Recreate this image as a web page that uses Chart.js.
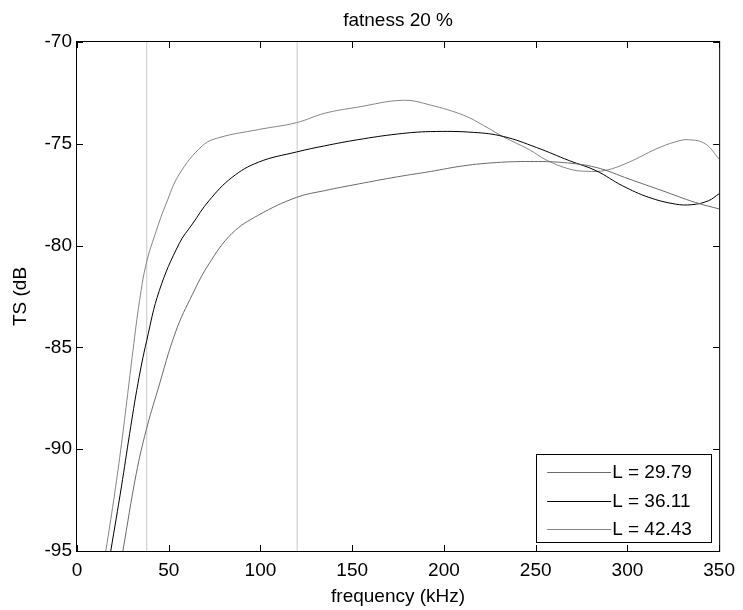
<!DOCTYPE html>
<html>
<head>
<meta charset="utf-8">
<title>fatness 20 %</title>
<script src="https://cdn.jsdelivr.net/npm/chart.js@4/dist/chart.umd.min.js"></script>
<style>
  html, body { margin: 0; padding: 0; background: #fff; }
  #wrap { width: 743px; height: 610px; }
</style>
</head>
<body>
<div id="wrap"><canvas id="chartTS" width="743" height="610"></canvas></div>
<script>
// TS vs frequency for three fish lengths
const freqL30 = [25, 32.3, 37.7, 44, 53.9, 62.9, 71.9, 84.5, 99, 119.7, 135, 153, 174.7, 192.7, 210.8, 228.8, 246.8, 264.8, 282.9, 300.9, 318.9, 337, 350];
const tsL30   = [-95, -91.2, -89.07, -87.1, -84.2, -82.4, -80.9, -79.4, -78.5, -77.63, -77.3, -76.98, -76.62, -76.36, -76.08, -75.92, -75.87, -75.92, -76.16, -76.73, -77.3, -77.88, -78.2];

const freqL36 = [18.4, 24.2, 28.7, 33.2, 38, 44.9, 55.7, 62.9, 71.9, 84.5, 99, 119.7, 135, 153, 174.7, 192.7, 216.2, 232.4, 250.4, 268.4, 282.9, 297.3, 311.7, 326.1, 335.1, 344.1, 350];
const tsL36   = [-95, -91.85, -89.23, -86.78, -84.66, -82.2, -79.9, -78.94, -77.8, -76.65, -75.9, -75.4, -75.1, -74.8, -74.52, -74.4, -74.44, -74.64, -75.18, -75.83, -76.32, -77.06, -77.63, -77.96, -77.99, -77.8, -77.45];

const freqL42 = [15.7, 20, 23.8, 27.2, 30.5, 34.1, 37.7, 43.1, 48.5, 55.7, 68.3, 77.3, 99, 119.7, 135, 153, 178, 192.7, 210.8, 221.6, 232.4, 246.8, 255.8, 268.4, 277.4, 288.3, 300.9, 315.5, 326.3, 333.3, 342.4, 350];
const tsL42   = [-95, -92.5, -90.05, -87.6, -85.15, -82.7, -80.9, -79.3, -77.96, -76.5, -75.1, -74.7, -74.3, -73.96, -73.5, -73.2, -72.86, -73.1, -73.6, -74.1, -74.66, -75.3, -75.8, -76.24, -76.35, -76.3, -75.9, -75.26, -74.9, -74.8, -75.0, -75.75];

const seriesLabels = ['L = 29.79', 'L = 36.11', 'L = 42.43'];
const markerFreqs = [38, 120];

const xTickValues = [0, 50, 100, 150, 200, 250, 300, 350];
const yTickValues = [-95, -90, -85, -80, -75, -70];

const FONT = { family: '"Liberation Sans", Arial, sans-serif', size: 19 };

const curve = (fs, ts) => fs.map((f, i) => ({ x: f, y: ts[i] }));

// box round the axes with inward ticks on all four sides
const frameTicks = {
  id: 'frameTicks',
  afterDatasetsDraw(chart) {
    const { ctx, chartArea: a, scales: { x, y } } = chart;
    const len = 6;
    ctx.save();
    ctx.strokeStyle = '#000';
    ctx.lineWidth = 1;
    ctx.beginPath();
    x.ticks.forEach(t => {
      const px = Math.round(x.getPixelForValue(t.value)) + 0.5;
      ctx.moveTo(px, a.bottom); ctx.lineTo(px, a.bottom - len);
      ctx.moveTo(px, a.top);    ctx.lineTo(px, a.top + len);
    });
    y.ticks.forEach(t => {
      const py = Math.round(y.getPixelForValue(t.value)) + 0.5;
      ctx.moveTo(a.left, py);  ctx.lineTo(a.left + len, py);
      ctx.moveTo(a.right, py); ctx.lineTo(a.right - len, py);
    });
    ctx.stroke();
    ctx.strokeRect(a.left - 0.5, a.top - 0.5, a.right - a.left + 1, a.bottom - a.top + 1);
    ctx.restore();
  }
};

// legend box in the lower right corner of the axes
const boxLegend = {
  id: 'boxLegend',
  afterDraw(chart) {
    const { ctx, chartArea: a } = chart;
    const w = 175, h = 88;
    const left = a.right - 8 - w, top = a.bottom - 9 - h;
    ctx.save();
    ctx.fillStyle = '#fff';
    ctx.fillRect(left, top, w, h);
    ctx.strokeStyle = '#000';
    ctx.lineWidth = 1;
    ctx.strokeRect(Math.round(left) + 0.5, Math.round(top) + 0.5, w, h);
    ctx.font = `${FONT.size}px ${FONT.family}`;
    ctx.textBaseline = 'middle';
    ctx.fillStyle = '#000';
    chart.data.datasets.filter(ds => !ds.marker).forEach((ds, i) => {
      const cy = Math.round(top + 18 + i * 28.5) + 0.5;
      ctx.strokeStyle = ds.borderColor;
      ctx.beginPath();
      ctx.moveTo(left + 11, cy);
      ctx.lineTo(left + 75, cy);
      ctx.stroke();
      ctx.fillText(ds.label, left + 76, cy);
    });
    ctx.restore();
  }
};

const lineStyle = { borderWidth: 1, pointRadius: 0, tension: 0.4, fill: false };

new Chart(document.getElementById('chartTS'), {
  type: 'line',
  data: {
    datasets: [
      { label: seriesLabels[0], data: curve(freqL30, tsL30), borderColor: '#6a6a6a', ...lineStyle },
      { label: seriesLabels[1], data: curve(freqL36, tsL36), borderColor: '#000000', ...lineStyle },
      { label: seriesLabels[2], data: curve(freqL42, tsL42), borderColor: '#858585', ...lineStyle },
      // operating frequencies
      ...markerFreqs.map(f => ({
        label: f + ' kHz', marker: true,
        data: [{ x: f, y: yTickValues[0] }, { x: f, y: yTickValues[yTickValues.length - 1] }],
        borderColor: '#c8c8c8', borderWidth: 1, pointRadius: 0
      }))
    ]
  },
  options: {
    responsive: false,
    animation: false,
    events: [],
    layout: { padding: { top: 0, right: 19, bottom: 0, left: 0 } },
    plugins: {
      legend: { display: false },
      tooltip: { enabled: false },
      title: {
        display: true,
        text: 'fatness 20 %',
        fullSize: false,
        color: '#000',
        font: { ...FONT, weight: 'normal' },
        padding: { top: 9, bottom: 10.2 }
      }
    },
    scales: {
      x: {
        type: 'linear',
        min: 0, max: 350,
        afterBuildTicks: s => { s.ticks = xTickValues.map(v => ({ value: v })); },
        afterFit: s => { s.height = 59; },
        grid: { display: false, drawTicks: false },
        border: { display: false },
        ticks: { color: '#000', font: FONT, padding: 8, maxRotation: 0, autoSkip: false },
        title: { display: true, text: 'frequency (kHz)', color: '#000', font: FONT, padding: { top: 0, bottom: 2 } }
      },
      y: {
        type: 'linear',
        min: -95, max: -70,
        afterBuildTicks: s => { s.ticks = yTickValues.map(v => ({ value: v })); },
        afterFit: s => { s.width = 77; },
        grid: { display: false, drawTicks: false },
        border: { display: false },
        ticks: { color: '#000', font: FONT, padding: 5, autoSkip: false },
        title: { display: true, text: 'TS (dB', color: '#000', font: FONT, padding: { top: 9, bottom: 0 } }
      }
    }
  },
  plugins: [frameTicks, boxLegend]
});
</script>
</body>
</html>
